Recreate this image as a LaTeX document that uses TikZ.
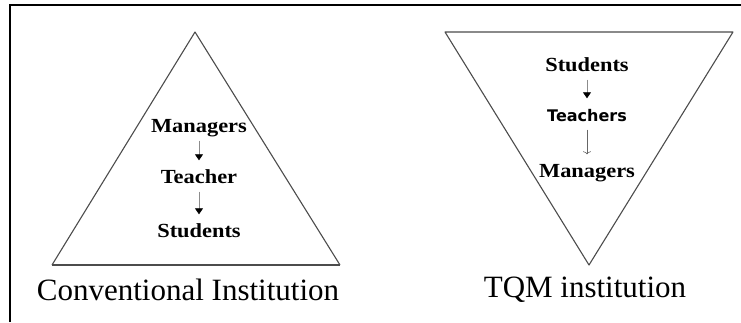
\documentclass[tikz,border=0pt]{standalone}
\usepackage{fontspec}
\setmainfont{Liberation Serif}
\newfontfamily\wordfont[FakeStretch=1.12]{Liberation Serif}
\newfontfamily\sansword{DejaVu Sans}
\usetikzlibrary{arrows.meta}

\begin{document}
\begin{tikzpicture}[x=1pt,y=-1pt,
    edge/.style={draw=black!70,line width=1.1pt,line join=round},
    word/.style={inner sep=0pt,text height=13pt,text depth=4pt,
                 font=\wordfont\bfseries\fontsize{20}{20}\selectfont},
    sansbox/.style={word,font=\sansword\bfseries\fontsize{16}{16}\selectfont},
    caption/.style={inner sep=0pt,font=\fontsize{31}{31}\selectfont},
    flow/.style={draw=black!45,line width=0.8pt,shorten <=4pt,shorten >=10pt,
                 -{Triangle[color=black,width=8pt,length=6pt]}},
    thinflow/.style={draw=black!60,line width=0.6pt,shorten <=4pt,shorten >=10pt,
                 -{To[length=3pt,width=8pt]}}]
  \useasboundingbox (0,0) rectangle (741,322);
  % frame
  \draw[line width=2pt] (10,322) -- (10,5) -- (741,5);

  % conventional pyramid
  \coordinate (topA) at (195,32);
  \coordinate (leftA) at (52,265);
  \coordinate (rightA) at (340,265);
  \draw[edge] (leftA) -- (topA) -- (rightA);
  \draw[edge,line width=2pt] (leftA) -- (rightA);
  \node[word] (mgrA) at (199,128) {Managers};
  \node[word] (teachA) at (199,179) {Teacher};
  \node[word] (studA) at (199,233) {Students};
  \draw[flow] (mgrA) -- (teachA);
  \draw[flow] (teachA) -- (studA);
  \node[caption] (capA) at (188,290) {Conventional Institution};

  % TQM pyramid
  \coordinate (leftB) at (445,32);
  \coordinate (rightB) at (733,32);
  \coordinate (tipB) at (589,265);
  \draw[edge] (leftB) -- (rightB) -- (tipB) -- cycle;
  \node[word] (studB) at (587,67) {Students};
  \node[sansbox] (teachB) at (587,117) {Teachers};
  \node[word] (mgrB) at (587,173) {Managers};
  \draw[flow] (studB) -- (teachB);
  \draw[thinflow] (teachB) -- (mgrB);
  \node[caption] (capB) at (585,290) {TQM institution};
\end{tikzpicture}
\end{document}
